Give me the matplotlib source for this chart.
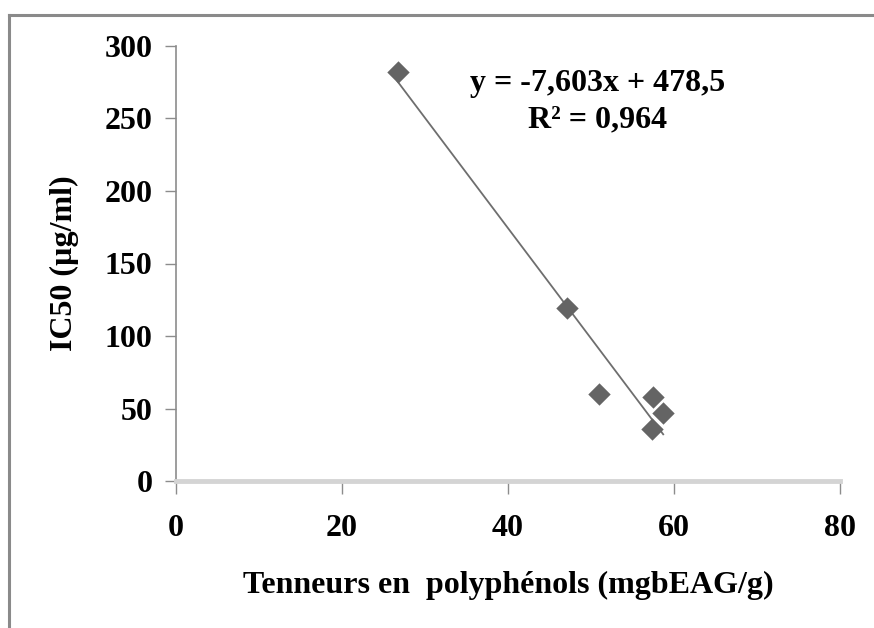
import matplotlib
matplotlib.use("Agg")
import matplotlib.pyplot as plt
from matplotlib.lines import Line2D
import numpy as np

# Data
polyphenols = [26.7, 47.1, 51.0, 57.5, 57.3, 58.7]
ic50 = [282, 119, 60, 58, 36, 47]
slope = -7.603
intercept = 478.5
eq_text = "y = -7,603x + 478,5"
r2_text = "R² = 0,964"
x_ticks = [0, 20, 40, 60, 80]
y_ticks = [0, 50, 100, 150, 200, 250, 300]
x_label = "Tenneurs en  polyphénols (mgbEAG/g)"
y_label = "IC50 (µg/ml)"

plt.rcParams['font.family'] = ['Liberation Serif', 'DejaVu Serif']

fig = plt.figure(figsize=(8.74, 6.28), dpi=100)
ax = fig.add_axes([176/874, 1-481/628, (840-176)/874, (481-46)/628])

# outer frame (top and left visible)
fig.add_artist(Line2D([9/874, 1.0], [1-15/628, 1-15/628], transform=fig.transFigure,
                      color='#8a8a8a', lw=2.2))
fig.add_artist(Line2D([9/874, 9/874], [0, 1-15/628], transform=fig.transFigure,
                      color='#8a8a8a', lw=2.2))

ax.scatter(polyphenols, ic50, marker='D', s=130, color='#646464', zorder=3, linewidths=0)
xs = np.array([min(polyphenols), max(polyphenols)])
ax.plot(xs, slope * xs + intercept, color='#6e6e6e', lw=1.3, zorder=2)

ax.set_xlim(0, 80)
ax.set_ylim(0, 300)
ax.set_xticks(x_ticks)
ax.set_yticks(y_ticks)
for s in ['top', 'right']:
    ax.spines[s].set_visible(False)
ax.spines['left'].set_color('#8c8c8c')
ax.spines['left'].set_linewidth(1.2)
ax.spines['bottom'].set_color('#d4d4d4')
ax.spines['bottom'].set_linewidth(3.5)
ax.tick_params(axis='y', direction='out', length=8, width=1, color='#8c8c8c', pad=9,
               labelsize=23)
ax.tick_params(axis='x', direction='out', length=9, width=1, color='#8c8c8c', pad=15,
               labelsize=23)
for lab in ax.get_xticklabels() + ax.get_yticklabels():
    lab.set_fontweight('bold')

ax.set_xlabel(x_label, fontsize=23, fontweight='bold', labelpad=20)
ax.set_ylabel(y_label, fontsize=23, fontweight='bold', labelpad=18)

ax.text(598/100, (628-83)/100, eq_text, transform=fig.dpi_scale_trans, fontsize=23,
        fontweight='bold', ha='center', va='center')
ax.text(598/100, (628-120)/100, r2_text, transform=fig.dpi_scale_trans, fontsize=23,
        fontweight='bold', ha='center', va='center')

fig.savefig("out.png", dpi=100)
